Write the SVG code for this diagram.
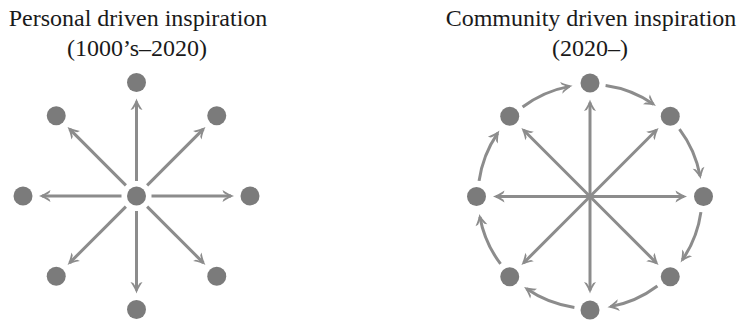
<svg xmlns="http://www.w3.org/2000/svg" width="741" height="321" viewBox="0 0 741 321">
<style>
.t{font-family:"Liberation Serif","Times New Roman",serif;font-size:24px;fill:#1a1a1a;text-anchor:middle}
.n{fill:#7b7b7b}
.e{stroke:#8c8c8c;stroke-width:3;fill:none;marker-end:url(#ah)}
</style>
<defs>
<marker id="ah" markerUnits="userSpaceOnUse" viewBox="-12 -8 16 16" markerWidth="16" markerHeight="16" refX="0" refY="0" orient="auto">
<path d="M3,0 C0,-1 -4,-3 -8.5,-6 L-7.5,-3.2 C-5,-1.5 -3,-0.5 -2,0 C-3,0.5 -5,1.5 -7.5,3.2 L-8.5,6 C-4,3 0,1 3,0 Z" fill="#8c8c8c"/>
</marker>
</defs>
<rect width="741" height="321" fill="#ffffff"/>
<g id="title-left">
<text class="t" x="138" y="26">Personal driven inspiration</text>
<text class="t" x="137" y="56">(1000’s–2020)</text>
</g>
<g id="title-right">
<text class="t" x="591" y="26">Community driven inspiration</text>
<text class="t" x="590" y="56">(2020–)</text>
</g>
<g id="connectors">
<!-- left spokes -->
<line class="e" x1="136.5" y1="181" x2="136.5" y2="101.5"/>
<line class="e" x1="147.11" y1="185.39" x2="203.32" y2="129.18"/>
<line class="e" x1="151.5" y1="196" x2="231" y2="196"/>
<line class="e" x1="147.11" y1="206.61" x2="203.32" y2="262.82"/>
<line class="e" x1="136.5" y1="211" x2="136.5" y2="290.5"/>
<line class="e" x1="125.89" y1="206.61" x2="69.68" y2="262.82"/>
<line class="e" x1="121.5" y1="196" x2="42" y2="196"/>
<line class="e" x1="125.89" y1="185.39" x2="69.68" y2="129.18"/>
<!-- right spokes -->
<line class="e" x1="590" y1="196.5" x2="590" y2="102.5"/>
<line class="e" x1="590" y1="196.5" x2="656.47" y2="130.03"/>
<line class="e" x1="590" y1="196.5" x2="684" y2="196.5"/>
<line class="e" x1="590" y1="196.5" x2="656.47" y2="262.97"/>
<line class="e" x1="590" y1="196.5" x2="590" y2="290.5"/>
<line class="e" x1="590" y1="196.5" x2="523.53" y2="262.97"/>
<line class="e" x1="590" y1="196.5" x2="496" y2="196.5"/>
<line class="e" x1="590" y1="196.5" x2="523.53" y2="130.03"/>
<!-- right ring arcs (clockwise) -->
<path class="e" d="M605.59,85.59 A112,112 0 0 1 653.44,104.20"/>
<path class="e" d="M679.45,129.10 A112,112 0 0 1 700.12,176.09"/>
<path class="e" d="M700.91,212.09 A112,112 0 0 1 682.30,259.94"/>
<path class="e" d="M657.40,285.95 A112,112 0 0 1 610.41,306.62"/>
<path class="e" d="M574.41,307.41 A112,112 0 0 1 526.56,288.80"/>
<path class="e" d="M500.55,263.90 A112,112 0 0 1 479.88,216.91"/>
<path class="e" d="M479.09,180.91 A112,112 0 0 1 497.70,133.06"/>
<path class="e" d="M522.60,107.05 A112,112 0 0 1 569.59,86.38"/>
</g>
<g id="left-center"><circle class="n" cx="136.5" cy="196" r="9.5"/></g>
<g id="left-n"><circle class="n" cx="136.5" cy="82.5" r="9.5"/></g>
<g id="left-ne"><circle class="n" cx="216.76" cy="115.74" r="9.5"/></g>
<g id="left-e"><circle class="n" cx="250" cy="196" r="9.5"/></g>
<g id="left-se"><circle class="n" cx="216.76" cy="276.26" r="9.5"/></g>
<g id="left-s"><circle class="n" cx="136.5" cy="309.5" r="9.5"/></g>
<g id="left-sw"><circle class="n" cx="56.24" cy="276.26" r="9.5"/></g>
<g id="left-w"><circle class="n" cx="23" cy="196" r="9.5"/></g>
<g id="left-nw"><circle class="n" cx="56.24" cy="115.74" r="9.5"/></g>
<g id="right-n"><circle class="n" cx="590" cy="83" r="9.5"/></g>
<g id="right-ne"><circle class="n" cx="670.26" cy="116.24" r="9.5"/></g>
<g id="right-e"><circle class="n" cx="703.5" cy="196.5" r="9.5"/></g>
<g id="right-se"><circle class="n" cx="670.26" cy="276.76" r="9.5"/></g>
<g id="right-s"><circle class="n" cx="590" cy="310" r="9.5"/></g>
<g id="right-sw"><circle class="n" cx="509.74" cy="276.76" r="9.5"/></g>
<g id="right-w"><circle class="n" cx="476.5" cy="196.5" r="9.5"/></g>
<g id="right-nw"><circle class="n" cx="509.74" cy="116.24" r="9.5"/></g>
</svg>
